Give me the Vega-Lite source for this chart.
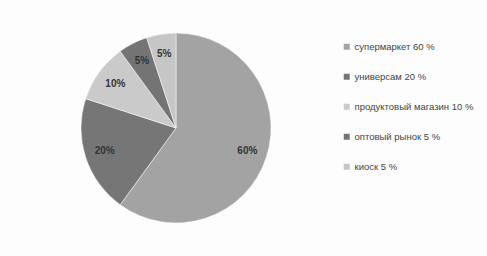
{
  "$schema": "https://vega.github.io/schema/vega-lite/v6.json",
  "width": 352,
  "height": 256,
  "autosize": {"type": "none"},
  "padding": {"left": 0, "top": 0, "right": 135, "bottom": 0},
  "background": "#fdfdfd",
  "config": {"view": {"stroke": null}},
  "data": {
    "values": [
      {"idx": 1, "cat": "супермаркет 60 %", "value": 60, "label": "60%"},
      {"idx": 2, "cat": "универсам 20 %", "value": 20, "label": "20%"},
      {"idx": 3, "cat": "продуктовый магазин 10 %", "value": 10, "label": "10%"},
      {"idx": 4, "cat": "оптовый рынок 5 %", "value": 5, "label": "5%"},
      {"idx": 5, "cat": "киоск 5 %", "value": 5, "label": "5%"}
    ]
  },
  "layer": [
    {
      "mark": {"type": "arc", "outerRadius": 95, "stroke": "#ffffff", "strokeWidth": 0.5},
      "encoding": {
        "theta": {"field": "value", "type": "quantitative", "stack": true},
        "order": {"field": "idx", "type": "quantitative"},
        "color": {
          "field": "cat",
          "type": "nominal",
          "scale": {
            "domain": ["супермаркет 60 %", "универсам 20 %", "продуктовый магазин 10 %", "оптовый рынок 5 %", "киоск 5 %"],
            "range": ["#a3a3a3", "#767676", "#cacaca", "#747474", "#c6c6c6"]
          },
          "legend": {
            "title": null,
            "orient": "none",
            "legendX": 342,
            "legendY": 42,
            "symbolType": "square",
            "symbolSize": 36,
            "symbolStrokeWidth": 0,
            "labelFont": "Liberation Sans",
            "labelFontSize": 9.5,
            "labelColor": "#444444",
            "rowPadding": 19,
            "labelOffset": 3
          }
        }
      }
    },
    {
      "mark": {"type": "text", "radius": 75, "font": "Liberation Sans", "fontSize": 10, "fontWeight": "bold", "fill": "#333333"},
      "encoding": {
        "theta": {"field": "value", "type": "quantitative", "stack": true},
        "order": {"field": "idx", "type": "quantitative"},
        "text": {"field": "label", "type": "nominal"}
      }
    }
  ]
}
